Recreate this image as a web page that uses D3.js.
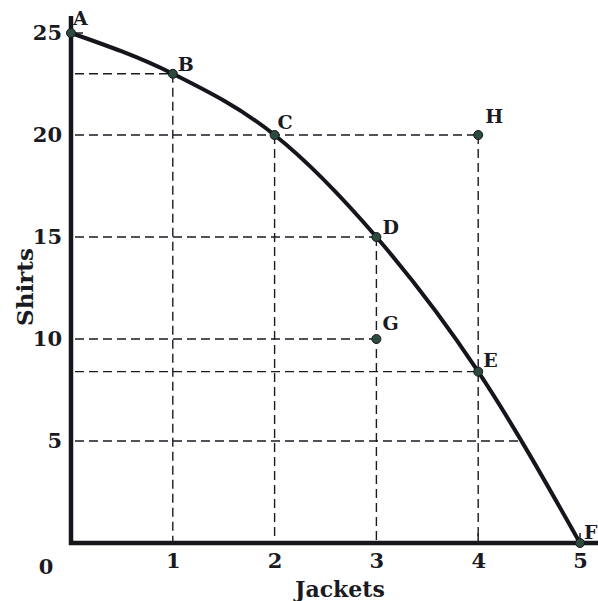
<!DOCTYPE html>
<html>
<head>
<meta charset="utf-8">
<script src="https://cdn.jsdelivr.net/npm/d3@7"></script>
<style>
  body { margin: 0; background: #fff; }
  svg { display: block; }
  text { font-family: "DejaVu Serif", serif; fill: #1a1a22; }
</style>
</head>
<body>
<svg id="chart"></svg>
<script>
let w = 598
let h = 601

// production possibilities curve
let names = ["A", "B", "C", "D", "E", "F"]
let jackets = [0, 1, 2, 3, 4, 5]
let shirts = [25, 23, 20, 15, 8.4, 0]

// points off the curve
let extraNames = ["G", "H"]
let extraJackets = [3, 4]
let extraShirts = [10, 20]

let xTicks = [1, 2, 3, 4, 5]
let yTicks = [5, 10, 15, 20, 25]

let svg = d3.select("#chart").attr("width", w).attr("height", h)

let x = d3.scaleLinear().domain([0, 5]).range([71, 580])
let y = d3.scaleLinear().domain([0, 25]).range([543, 33])

let pts = jackets.map((j, i) => ({ name: names[i], x: j, y: shirts[i] }))
let extra = extraJackets.map((j, i) => ({ name: extraNames[i], x: j, y: extraShirts[i] }))

let dashed = svg.append("g")
  .attr("stroke", "#1a1a22")
  .attr("stroke-width", 1.4)
  .attr("stroke-dasharray", "9,5")
  .attr("fill", "none")

let line = d3.line().x(d => x(d.x)).y(d => y(d.y)).curve(d3.curveMonotoneX)

// horizontal guides from the shirts axis
let hGuides = [
  { y: 23, to: 1 },
  { y: 20, to: 4 },
  { y: 15, to: 3 },
  { y: 10, to: 3 },
  { y: 8.4, to: 4 },
  { y: 5, to: 4.4 }
]
hGuides.forEach(g => {
  dashed.append("line")
    .attr("x1", x(0) + 4).attr("x2", x(g.to))
    .attr("y1", y(g.y)).attr("y2", y(g.y))
})

// vertical guides down to jackets axis
let vGuides = [
  { x: 1, from: 23 },
  { x: 2, from: 20 },
  { x: 3, from: 15 },
  { x: 4, from: 20 }
]
vGuides.forEach(g => {
  dashed.append("line")
    .attr("x1", x(g.x)).attr("x2", x(g.x))
    .attr("y1", y(g.from)).attr("y2", y(0) - 2)
})

// curve
svg.append("path")
  .datum(pts)
  .attr("d", line)
  .attr("fill", "none")
  .attr("stroke", "#15151c")
  .attr("stroke-width", 4)

// axes
let xAxis = d3.axisBottom(x).tickValues(xTicks).tickFormat(d3.format("d")).tickSize(0).tickPadding(10)
let gx = svg.append("g").attr("transform", `translate(0,${y(0)})`).call(xAxis)
gx.select(".domain").remove()
gx.selectAll("text").attr("font-size", 21).attr("font-weight", "bold").attr("fill", "#1a1a22")

let yAxis = d3.axisLeft(y).tickValues(yTicks).tickFormat(d3.format("d")).tickSize(0).tickPadding(9)
let gy = svg.append("g").attr("transform", `translate(${x(0)},0)`).call(yAxis)
gy.select(".domain").remove()
gy.selectAll("text").attr("font-size", 21).attr("font-weight", "bold").attr("fill", "#1a1a22")

// small inner ticks
svg.selectAll(".xt").data([4, 5]).join("line")
  .attr("x1", d => x(d)).attr("x2", d => x(d))
  .attr("y1", y(0)).attr("y2", y(0) - 10)
  .attr("stroke", "#1a1a22").attr("stroke-width", 1.5)
svg.append("line")
  .attr("x1", x(0)).attr("x2", x(0) + 12)
  .attr("y1", y(25)).attr("y2", y(25))
  .attr("stroke", "#1a1a22").attr("stroke-width", 1.5)

svg.append("line")
  .attr("x1", x(0)).attr("x2", x(0))
  .attr("y1", 16).attr("y2", y(0) + 2)
  .attr("stroke", "#15151c").attr("stroke-width", 4.5)
svg.append("line")
  .attr("x1", x(0) - 2).attr("x2", w)
  .attr("y1", y(0)).attr("y2", y(0))
  .attr("stroke", "#15151c").attr("stroke-width", 4.5)

svg.append("text")
  .attr("x", 46).attr("y", 574)
  .attr("text-anchor", "middle")
  .attr("font-size", 21).attr("font-weight", "bold")
  .text("0")

svg.append("text")
  .attr("x", 340).attr("y", 597)
  .attr("text-anchor", "middle")
  .attr("font-size", 22).attr("font-weight", "bold")
  .text("Jackets")

svg.append("text")
  .attr("transform", "translate(33,287) rotate(-90)")
  .attr("text-anchor", "middle")
  .attr("font-size", 23).attr("font-weight", "bold")
  .text("Shirts")

// dots and labels
let all = pts.concat(extra)
svg.selectAll(".dot").data(all).join("circle")
  .attr("cx", d => x(d.x)).attr("cy", d => y(d.y))
  .attr("r", 4.5)
  .attr("fill", "#2c4a3e")
  .attr("stroke", "#15151c").attr("stroke-width", 1)

let offsets = {
  A: [2, -8], B: [5, -3], C: [3, -6], D: [6, -3],
  E: [5, -5], F: [4, -4], G: [6, -9], H: [7, -12]
}
svg.selectAll(".lbl").data(all).join("text")
  .attr("x", d => x(d.x) + offsets[d.name][0])
  .attr("y", d => y(d.y) + offsets[d.name][1])
  .attr("font-size", 19).attr("font-weight", "bold")
  .text(d => d.name)
</script>
</body>
</html>
